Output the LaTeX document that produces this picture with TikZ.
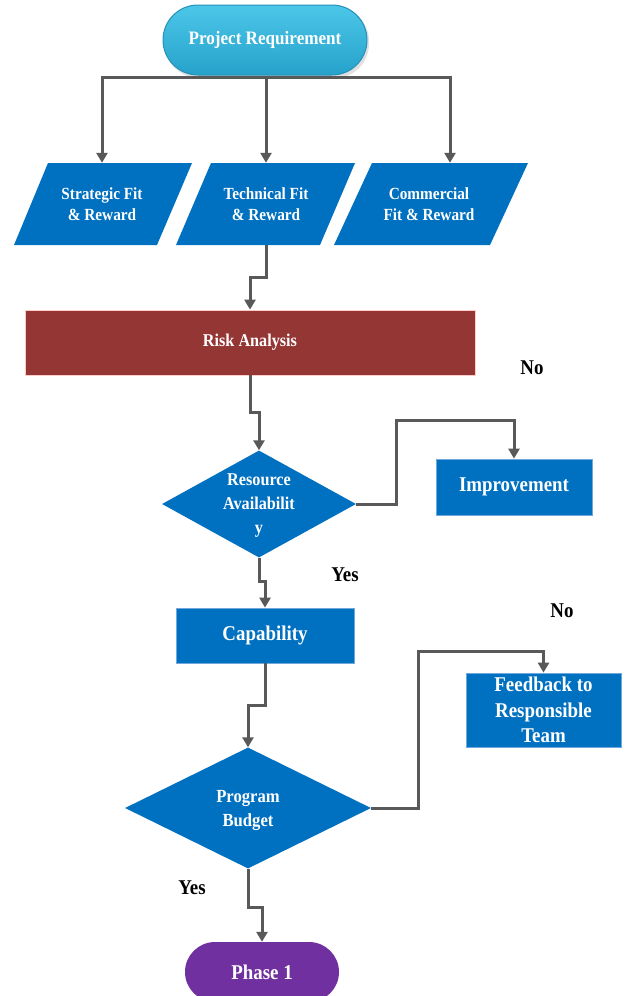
\documentclass[tikz,border=0pt]{standalone}
\usepackage{fontspec}
\setmainfont{Liberation Serif}[FakeStretch=0.9]
\usetikzlibrary{shapes.geometric,arrows.meta}
\definecolor{mblue}{HTML}{0070C0}
\definecolor{mborder}{HTML}{6FA8DC}
\definecolor{mred}{HTML}{943634}
\definecolor{mpurple}{HTML}{7030A0}
\definecolor{cyanT}{HTML}{4CC6E8}
\definecolor{cyanB}{HTML}{26A2CB}
\definecolor{cyanD}{HTML}{2591B8}
\definecolor{lgray}{HTML}{595959}
\tikzset{
  wtxt/.style={text=white, align=center, inner sep=0pt},
  boxfill/.style={fill=mblue, draw=mborder, line width=0.8pt, inner sep=0pt},
  conn/.style={draw=lgray, line width=3pt},
  arr/.style={conn, -{Triangle[width=11pt,length=10pt]}},
  lbl/.style={font=\bfseries\fontsize{21}{24}\selectfont, text=black, inner sep=0pt},
}
\begin{document}
\begin{tikzpicture}[x=1pt,y=-1pt]
\useasboundingbox (0,0) rectangle (627,996);
\clip (0,0) rectangle (627,996);
\fill[white] (0,0) rectangle (627,996);

% top pill shadow
\fill[black!12, rounded corners=34pt] (165,7) rectangle (369,78);
\node[rounded corners=35pt, top color=cyanT, bottom color=cyanB, draw=cyanD, line width=1pt,
      minimum width=204pt, minimum height=70pt, wtxt,
      font=\bfseries\fontsize{19}{20}\selectfont] (proj) at (265,40) {Project Requirement};

% parallelograms
\fill[mblue] (48,163) -- (192,163) -- (157,245) -- (14,245) -- cycle;
\fill[mblue] (211,163) -- (355,163) -- (320,245) -- (176,245) -- cycle;
\fill[mblue] (372,163) -- (528,163) -- (490,245) -- (334,245) -- cycle;
\node[wtxt, minimum height=82pt, font=\bfseries\fontsize{17}{21}\selectfont] (strat) at (102,204) {Strategic Fit\\\& Reward};
\node[wtxt, minimum height=82pt, font=\bfseries\fontsize{17}{21}\selectfont] (tech) at (266,204) {Technical Fit\\\& Reward};
\node[wtxt, minimum height=82pt, font=\bfseries\fontsize{17}{21}\selectfont] (comm) at (429,204) {Commercial\\Fit \& Reward};

% risk
\node[fill=mred, draw=red!20!white, line width=0.8pt, minimum width=450pt, minimum height=65pt, wtxt,
      font=\bfseries\fontsize{18}{20}\selectfont] (risk) at (250,342.5) {Risk Analysis};

% resource diamond
\node[diamond, fill=mblue, minimum width=194pt, minimum height=107pt, inner sep=0pt] (res) at (259,504) {};
\node[wtxt, font=\bfseries\fontsize{18}{24}\selectfont] (restxt) at (259,506) {Resource\\Availabilit\\y};

% improvement
\node[boxfill, minimum width=156pt, minimum height=56pt, wtxt,
      font=\bfseries\fontsize{21}{24}\selectfont] (imp) at (514,487) {Improvement};

% capability
\node[boxfill, minimum width=178pt, minimum height=55pt, wtxt,
      font=\bfseries\fontsize{21}{24}\selectfont] (cap) at (265,635.5) {Capability};

% budget diamond
\node[diamond, fill=mblue, minimum width=246pt, minimum height=121pt, inner sep=0pt] (bud) at (248,808) {};
\node[wtxt, font=\bfseries\fontsize{18.5}{24}\selectfont] (budtxt) at (248,810) {Program\\Budget};

% feedback
\node[boxfill, minimum width=155pt, minimum height=74pt, wtxt,
      font=\bfseries\fontsize{21}{25.5}\selectfont] (fb) at (543.5,710) {Feedback to\\Responsible\\Team};

% phase 1
\node[rounded corners=30pt, fill=mpurple, minimum width=154pt, minimum height=60pt, wtxt,
      font=\bfseries\fontsize{21}{24}\selectfont] (phase) at (262,972) {Phase 1};

% labels
\node[lbl] (no1) at (532,368) {No};
\node[lbl] (yes1) at (345,575) {Yes};
\node[lbl] (no2) at (562,611) {No};
\node[lbl] (yes2) at (192,888) {Yes};

% connectors
\coordinate (bus) at (266,77);
\draw[conn] (proj.south -| bus) -- (bus);
\draw[arr] (bus) -| (strat.north);
\draw[arr] (bus) -- (tech.north);
\draw[arr] (bus) -| (comm.north -| 450,0);
\draw[arr] (tech.south) -- (266,277) -- (250,277) -- (risk.north);
\draw[arr] (risk.south) -- (250,412) -- (259,412) -- (res.north);
\draw[arr] (res.east) -| (396,420) -| (imp.north);
\draw[arr] (res.south) -- (259,581) -- (265,581) -- (cap.north);
\draw[arr] (cap.south) -- (265,705) -- (248,705) -- (bud.north);
\draw[arr] (bud.east) -| (418,651) -| (fb.north);
\draw[arr] (bud.south) -- (248,907) -- (262,907) -- (phase.north);
\end{tikzpicture}
\end{document}
